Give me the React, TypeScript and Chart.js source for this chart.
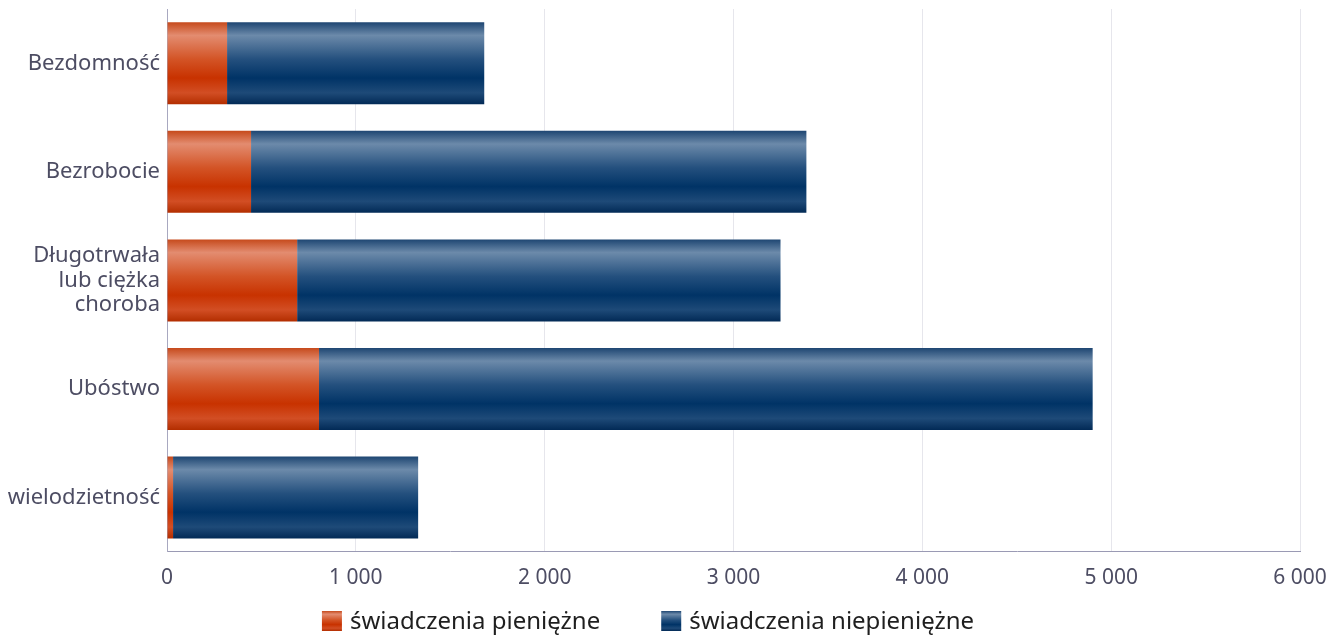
import React, { useEffect, useRef } from "react";
import { Chart, registerables } from "chart.js";

Chart.register(...registerables);

const categories: (string | string[])[] = [
  "Bezdomność",
  "Bezrobocie",
  ["Długotrwała", "lub ciężka", "choroba"],
  "Ubóstwo",
  "wielodzietność",
];
const cashBenefits = [318, 445, 689, 805, 32];
const nonCashBenefits = [1362, 2941, 2560, 4097, 1298];
const seriesLabels = ["świadczenia pieniężne", "świadczenia niepieniężne"];
const xTicks = [0, 1000, 2000, 3000, 4000, 5000, 6000];

const FONT = "'Noto Sans', 'Open Sans', sans-serif";
const TEXT = "#4d4d63";

function fmt(v: number) {
  if (v < 1000) return String(v);
  const th = Math.floor(v / 1000);
  const rest = String(v % 1000).padStart(3, "0");
  return `${th} ${rest}`;
}

function makeGrad(ctx: CanvasRenderingContext2D, top: number, bottom: number, kind: number) {
  const g = ctx.createLinearGradient(0, top, 0, bottom);
  if (kind === 0) {
    g.addColorStop(0, "#c64a1c");
    g.addColorStop(0.16, "#e38c70");
    g.addColorStop(0.45, "#d35426");
    g.addColorStop(0.68, "#c83200");
    g.addColorStop(0.86, "#d24e24");
    g.addColorStop(1, "#b32e00");
  } else {
    g.addColorStop(0, "#1e4672");
    g.addColorStop(0.16, "#6c8aaa");
    g.addColorStop(0.45, "#24507e");
    g.addColorStop(0.68, "#003366");
    g.addColorStop(0.86, "#1e4a78");
    g.addColorStop(1, "#022a56");
  }
  return g;
}

const baseColors = ["#c83200", "#003366"];
const BAR_PCT = 0.755;

function scriptableBg(kind: number) {
  return (c: any) => {
    const chart = c.chart;
    const area = chart.chartArea;
    const ys = chart.scales?.y;
    if (!area || !ys || c.type !== "data") return baseColors[kind];
    const center = ys.getPixelForValue(c.dataIndex);
    const band = (area.bottom - area.top) / categories.length;
    const h = band * BAR_PCT;
    return makeGrad(chart.ctx, center - h / 2, center + h / 2, kind);
  };
}

const customLegend = {
  id: "customLegend",
  afterDraw(chart: any) {
    const ctx: CanvasRenderingContext2D = chart.ctx;
    ctx.save();
    ctx.font = `24px ${FONT}`;
    const box = 20;
    const gapText = 8;
    const gapItem = 61;
    const widths = seriesLabels.map((t) => ctx.measureText(t).width);
    const total = widths.reduce((a, w) => a + box + gapText + w, 0) + gapItem * (seriesLabels.length - 1);
    let x = 648 - total / 2;
    const boxTop = 611;
    seriesLabels.forEach((t, i) => {
      ctx.fillStyle = makeGrad(ctx, boxTop, boxTop + box, i);
      ctx.fillRect(x, boxTop, box, box);
      x += box + gapText;
      ctx.fillStyle = "#1f1f1f";
      ctx.textBaseline = "alphabetic";
      ctx.textAlign = "left";
      ctx.fillText(t, x, 629);
      x += widths[i] + gapItem;
    });
    ctx.restore();
  },
};

export default function App() {
  const ref = useRef<HTMLCanvasElement>(null);
  useEffect(() => {
    document.body.style.margin = "0";
    const chart = new Chart(ref.current!, {
      type: "bar",
      data: {
        labels: categories as any,
        datasets: [
          {
            label: seriesLabels[0],
            data: cashBenefits,
            backgroundColor: scriptableBg(0) as any,
            borderWidth: 0,
            categoryPercentage: 1,
            barPercentage: BAR_PCT,
          },
          {
            label: seriesLabels[1],
            data: nonCashBenefits,
            backgroundColor: scriptableBg(1) as any,
            borderWidth: 0,
            categoryPercentage: 1,
            barPercentage: BAR_PCT,
          },
        ],
      },
      options: {
        indexAxis: "y",
        animation: false,
        responsive: true,
        maintainAspectRatio: false,
        layout: { padding: { top: 9, right: 42, left: 0, bottom: 31 } },
        scales: {
          x: {
            stacked: true,
            min: 0,
            max: 6000,
            afterBuildTicks: (s: any) => {
              s.ticks = xTicks.map((v) => ({ value: v }));
            },
            ticks: {
              color: TEXT,
              font: { family: FONT, size: 21 },
              padding: 14,
              maxRotation: 0,
              callback: (v: any) => fmt(Number(v)),
            },
            grid: { color: "#e6e6ec", lineWidth: 1, drawTicks: false },
            border: { color: "#9a9ab4", width: 1 },
          },
          y: {
            stacked: true,
            afterFit: (s: any) => {
              s.width = 167;
              s.paddingTop = 0;
              s.paddingBottom = 0;
            },
            ticks: {
              color: TEXT,
              font: { family: FONT, size: 22, lineHeight: 1.1 },
              padding: 7,
            },
            grid: { display: false, drawTicks: false },
            border: { color: "#a8a8c0", width: 1 },
          },
        },
        plugins: {
          legend: { display: false },
          tooltip: { enabled: false },
        },
      },
      plugins: [customLegend],
    } as any);
    return () => chart.destroy();
  }, []);
  return (
    <div style={{ width: 1342, height: 636, position: "relative" }}>
      <canvas ref={ref} />
    </div>
  );
}
